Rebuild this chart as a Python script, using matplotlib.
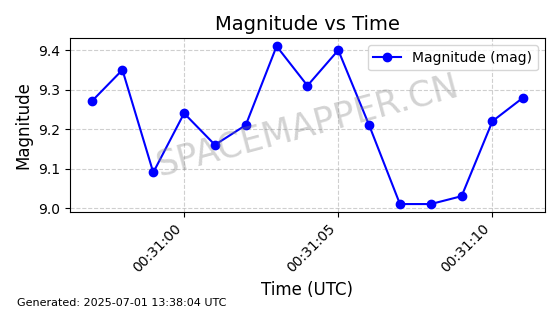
import pandas as pd
import matplotlib
matplotlib.use("Agg")
import matplotlib.pyplot as plt
import matplotlib.dates as mdates

# Datos
times = pd.date_range("2025-07-01 00:30:57", periods=15, freq="s")
magnitudes = [9.27, 9.35, 9.09, 9.24, 9.16, 9.21, 9.41, 9.31, 9.40, 9.21,
              9.01, 9.01, 9.03, 9.22, 9.28]
yticks = [9.0, 9.1, 9.2, 9.3, 9.4]

fig, ax = plt.subplots(figsize=(5.6, 3.14), dpi=100)
fig.subplots_adjust(left=0.125, right=0.973, top=0.878, bottom=0.325)

ax.plot(times, magnitudes, marker='o', color='blue', linewidth=1.5,
        markersize=6, label='Magnitude (mag)')

ax.set_title('Magnitude vs Time', fontsize=14)
ax.set_xlabel('Time (UTC)', fontsize=12)
ax.set_ylabel('Magnitude', fontsize=12)
ax.set_yticks(yticks)
ax.xaxis.set_major_formatter(mdates.DateFormatter('%H:%M:%S'))
ax.xaxis.set_major_locator(mdates.SecondLocator(bysecond=range(0, 60, 5)))
plt.setp(ax.get_xticklabels(), rotation=45, ha='right')
ax.grid(True, linestyle='--', alpha=0.6)
ax.legend(loc='upper right')

# Marca de agua
ax.text(0.5, 0.5, 'SPACEMAPPER.CN', transform=ax.transAxes, fontsize=25,
        color='gray', alpha=0.35, rotation=15, ha='center', va='center')

fig.text(0.03, 0.025, 'Generated: 2025-07-01 13:38:04 UTC', fontsize=8)

plt.savefig('out.png', dpi=100)
